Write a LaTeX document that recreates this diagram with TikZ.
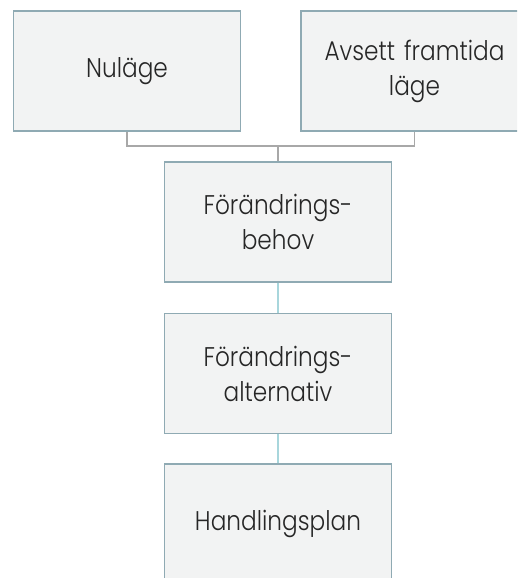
\documentclass[tikz,border=0pt]{standalone}
\usepackage{fontspec}
\setmainfont{Poppins}[UprightFont=* Light, FakeStretch=0.86]
\definecolor{boxfill}{HTML}{F2F3F3}
\definecolor{boxline}{HTML}{8FAAB3}
\definecolor{greyline}{HTML}{A8A8A8}
\definecolor{blueline}{HTML}{A8D6DC}
\begin{document}
\begin{tikzpicture}[x=1pt,y=-1pt,
  stage/.style={draw=boxline, fill=boxfill, line width=1.3pt,
    minimum width=227pt, minimum height=120pt, inner sep=0pt,
    align=center, text width=215pt, font=\fontsize{27}{35}\selectfont, text=black!85},
  greylink/.style={draw=greyline, line width=1.4pt},
  bluelink/.style={draw=blueline, line width=1.6pt}]
\useasboundingbox (0,0) rectangle (517,578);
\begin{scope}
\clip (0,0) rectangle (517,578);
% top row
\node[stage] (now) at (127,71) {Nuläge};
\node[stage] (future) at (414.5,71) {Avsett framtida\\läge};
% chain
\node[stage] (need) at (278,222) {Förändrings-\\behov};
\node[stage] (alt) at (278,373.5) {Förändrings-\\alternativ};
\node[stage] (plan) at (278,524) {Handlingsplan};
% connectors
\coordinate (join) at (278,146);
\draw[greylink] (now.south) |- (join) -| (future.south);
\draw[greylink] (join) -- (need.north);
\draw[bluelink] (need.south) -- (alt.north);
\draw[bluelink] (alt.south) -- (plan.north);
\end{scope}
\end{tikzpicture}
\end{document}
